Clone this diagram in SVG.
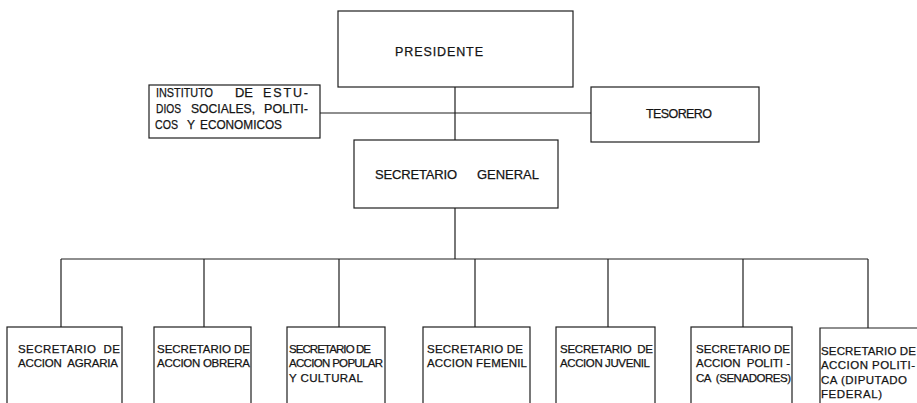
<svg xmlns="http://www.w3.org/2000/svg" width="917" height="403" viewBox="0 0 917 403" xml:space="preserve">
<style>
.box{fill:none;stroke:#1e1e1e;stroke-width:1.2}
.ln{fill:none;stroke:#1e1e1e;stroke-width:1.2}
text{font-family:"Liberation Sans",Arial,sans-serif;fill:#141414;white-space:pre;stroke:#141414;stroke-width:0.25}
.t11{font-size:11.5px}
.t12{font-size:12.5px}
.t13{font-size:13px}
</style>
<rect width="917" height="403" fill="#ffffff"/>
<g id="connectors">
<path class="ln" d="M455 87V140M320 113H591M455 208V259M61 259H868M61 259V327M204 259V327M339 259V327M475 259V327M608 259V327M743 259V327M868 259V328"/>
</g>
<g id="presidente">
<rect class="box" x="338" y="11" width="235" height="76"/>
<text class="t12" x="395" y="56" textLength="88" lengthAdjust="spacing">PRESIDENTE</text>
</g>
<g id="instituto">
<rect class="box" x="149" y="85" width="171" height="53"/>
<text class="t12" y="97"><tspan x="156" textLength="57" lengthAdjust="spacingAndGlyphs">INSTITUTO</tspan><tspan x="235" textLength="18" lengthAdjust="spacingAndGlyphs">DE</tspan><tspan x="263" textLength="45" lengthAdjust="spacing">ESTU-</tspan></text>
<text class="t12" y="113"><tspan x="156" textLength="25" lengthAdjust="spacingAndGlyphs">DIOS</tspan><tspan x="191" textLength="64" lengthAdjust="spacingAndGlyphs">SOCIALES,</tspan><tspan x="264" textLength="44" lengthAdjust="spacingAndGlyphs">POLITI-</tspan></text>
<text class="t12" y="129"><tspan x="155" textLength="23" lengthAdjust="spacingAndGlyphs">COS</tspan><tspan x="187" textLength="8" lengthAdjust="spacingAndGlyphs">Y</tspan><tspan x="200" textLength="82" lengthAdjust="spacingAndGlyphs">ECONOMICOS</tspan></text>
</g>
<g id="tesorero">
<rect class="box" x="591" y="87" width="168" height="55"/>
<text class="t12" x="646" y="118" textLength="66" lengthAdjust="spacing">TESORERO</text>
</g>
<g id="secretario-general">
<rect class="box" x="354" y="140" width="204" height="68"/>
<text class="t13" x="375" y="179" textLength="82" lengthAdjust="spacing">SECRETARIO</text>
<text class="t13" x="477" y="179" textLength="62" lengthAdjust="spacing">GENERAL</text>
</g>
<g id="accion-agraria">
<rect class="box" x="7" y="327" width="115" height="90"/>
<text class="t11" x="18" y="353" textLength="102" lengthAdjust="spacing">SECRETARIO  DE</text>
<text class="t11" x="18" y="367" textLength="100" lengthAdjust="spacing">ACCION  AGRARIA</text>
</g>
<g id="accion-obrera">
<rect class="box" x="154" y="327" width="97" height="90"/>
<text class="t11" x="157" y="353" textLength="93" lengthAdjust="spacing">SECRETARIO DE</text>
<text class="t11" x="157" y="367" textLength="93" lengthAdjust="spacing">ACCION OBRERA</text>
</g>
<g id="accion-popular">
<rect class="box" x="287" y="327" width="98" height="90"/>
<text class="t11" x="289" y="353" textLength="82" lengthAdjust="spacing">SECRETARIO DE</text>
<text class="t11" x="289" y="367" textLength="94" lengthAdjust="spacing">ACCION POPULAR</text>
<text class="t11" x="289" y="382" textLength="74" lengthAdjust="spacing">Y CULTURAL</text>
</g>
<g id="accion-femenil">
<rect class="box" x="423" y="327" width="107" height="90"/>
<text class="t11" x="427" y="353" textLength="96" lengthAdjust="spacing">SECRETARIO DE</text>
<text class="t11" x="427" y="367" textLength="100" lengthAdjust="spacing">ACCION FEMENIL</text>
</g>
<g id="accion-juvenil">
<rect class="box" x="556" y="327" width="99" height="90"/>
<text class="t11" x="560" y="353" textLength="93" lengthAdjust="spacing">SECRETARIO  DE</text>
<text class="t11" x="560" y="367" textLength="90" lengthAdjust="spacing">ACCION JUVENIL</text>
</g>
<g id="accion-politica-senadores">
<rect class="box" x="691" y="327" width="101" height="90"/>
<text class="t11" x="696" y="353" textLength="94" lengthAdjust="spacing">SECRETARIO DE</text>
<text class="t11" x="696" y="367" textLength="94" lengthAdjust="spacing">ACCION  POLITI -</text>
<text class="t11" x="696" y="382" textLength="95" lengthAdjust="spacing">CA  (SENADORES)</text>
</g>
<g id="accion-politica-diputado">
<path class="box" d="M820 417V328H920"/>
<text class="t11" x="821" y="355" textLength="95" lengthAdjust="spacing">SECRETARIO DE</text>
<text class="t11" x="821" y="369" textLength="94" lengthAdjust="spacing">ACCION POLITI-</text>
<text class="t11" x="821" y="384" textLength="86" lengthAdjust="spacing">CA (DIPUTADO</text>
<text class="t11" x="821" y="398" textLength="61" lengthAdjust="spacing">FEDERAL)</text>
</g>
</svg>
